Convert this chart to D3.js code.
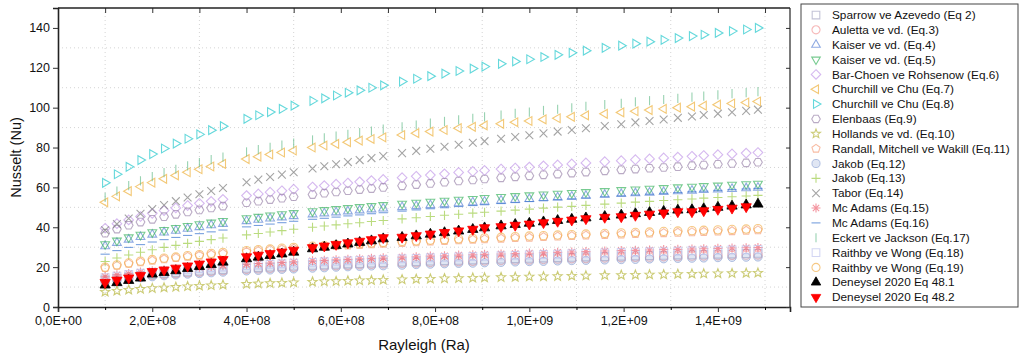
<!DOCTYPE html>
<html><head><meta charset="utf-8">
<script src="https://cdn.jsdelivr.net/npm/d3@7"></script>
<style>body{margin:0;background:#fff;} svg{display:block;font-family:"Liberation Sans",Arial,sans-serif;}</style>
</head><body><svg id="chart" width="1022" height="359"></svg>
<script>
// ---------------- DATA ----------------
const rayleigh = [1.00e8,1.25e8,1.50e8,1.75e8,2.00e8,2.25e8,2.50e8,2.75e8,3.00e8,3.25e8,3.50e8,
  4.00e8,4.25e8,4.50e8,4.75e8,5.00e8,
  5.40e8,5.65e8,5.90e8,6.15e8,6.40e8,6.65e8,6.90e8,
  7.30e8,7.60e8,7.90e8,8.20e8,8.50e8,8.80e8,9.05e8,
  9.40e8,9.70e8,1.000e9,1.030e9,1.060e9,1.090e9,1.120e9,1.160e9,
  1.195e9,1.225e9,1.255e9,1.285e9,1.315e9,
  1.345e9,1.370e9,
  1.400e9,1.430e9,1.460e9,1.485e9];

const seriesNames = ["Sparrow ve Azevedo (Eq 2)","Auletta ve vd. (Eq.3)","Kaiser ve vd. (Eq.4)","Kaiser ve vd. (Eq.5)",
  "Bar-Choen ve Rohsenow (Eq.6)","Churchill ve Chu (Eq.7)","Churchill ve Chu (Eq.8)","Elenbaas (Eq.9)",
  "Hollands ve vd. (Eq.10)","Randall, Mitchell ve Wakill (Eq.11)","Jakob (Eq.12)","Jakob (Eq.13)","Tabor (Eq.14)",
  "Mc Adams (Eq.15)","Mc Adams (Eq.16)","Eckert ve Jackson (Eq.17)","Raithby  ve Wong (Eq.18)","Raithby  ve Wong (Eq.19)",
  "Deneysel 2020 Eq 48.1","Deneysel 2020 Eq 48.2"];

const sparrow = [13.7,14.5,15.2,15.8,16.3,16.8,17.2,17.6,18.0,18.4,18.7, 19.4,19.7,20.0,20.2,20.5, 20.9,21.1,21.4,21.6,21.8,22.0,22.2, 22.5,22.7,23.0,23.2,23.4,23.6,23.8, 24.0,24.2,24.4,24.6,24.7,24.9,25.1,25.3, 25.5,25.6,25.8,25.9,26.1, 26.2,26.4, 26.5,26.6,26.8,26.9];
const auletta = [13.3,14.1,14.7,15.3,15.8,16.3,16.7,17.1,17.5,17.9,18.2, 18.8,19.1,19.4,19.6,19.9, 20.3,20.5,20.7,20.9,21.2,21.4,21.6, 21.9,22.1,22.3,22.5,22.7,22.9,23.1, 23.3,23.5,23.6,23.8,24.0,24.2,24.3,24.6, 24.7,24.9,25.0,25.2,25.3, 25.5,25.6, 25.7,25.9,26.0,26.1];
const kaiser4 = [30.5,32.2,33.8,35.1,36.3,37.4,38.3,39.3,40.1,41.0,41.7, 43.1,43.8,44.4,45.0,45.6, 46.5,47.0,47.5,48.0,48.5,49.0,49.4, 50.1,50.6,51.1,51.6,52.1,52.5,52.9, 53.4,53.8,54.2,54.7,55.0,55.4,55.8,56.3, 56.7,57.1,57.4,57.7,58.1, 58.4,58.7, 59.0,59.3,59.6,59.9];
const kaiser5 = [31.5,33.3,34.9,36.2,37.5,38.6,39.6,40.6,41.5,42.3,43.1, 44.5,45.2,45.9,46.5,47.1, 48.0,48.6,49.1,49.6,50.1,50.6,51.1, 51.8,52.3,52.8,53.3,53.8,54.2,54.7, 55.2,55.6,56.0,56.4,56.8,57.2,57.6,58.1, 58.6,58.9,59.3,59.6,60.0, 60.3,60.6, 60.9,61.3,61.6,61.8];
const barChoen = [39.5,41.8,43.7,45.4,47.0,48.4,49.7,50.9,52.0,53.0,54.0, 55.9,56.7,57.6,58.3,59.1, 60.2,60.9,61.6,62.2,62.8,63.4,64.0, 64.9,65.6,66.2,66.8,67.5,68.0,68.5, 69.2,69.7,70.2,70.8,71.3,71.8,72.3,72.9, 73.4,73.9,74.3,74.8,75.2, 75.6,76.0, 76.4,76.8,77.2,77.5];
const churchill7 = [52.5,55.5,58.1,60.4,62.4,64.3,66.0,67.6,69.1,70.5,71.8, 74.2,75.4,76.5,77.5,78.5, 80.0,81.0,81.8,82.7,83.5,84.3,85.1, 86.3,87.2,88.0,88.8,89.7,90.4,91.1, 91.9,92.7,93.3,94.1,94.7,95.4,96.1,96.9, 97.6,98.2,98.8,99.4,100.0, 100.5,101.0, 101.5,102.1,102.6,103.1];
const churchill8 = [62.3,66.6,70.3,73.7,76.7,79.5,82.0,84.4,86.6,88.7,90.7, 94.4,96.2,97.8,99.4,101.0, 103.4,104.7,106.1,107.5,108.7,110.0,111.2, 113.1,114.5,115.8,117.1,118.4,119.6,120.6, 122.0,123.2,124.3,125.4,126.5,127.5,128.6,130.0, 131.1,132.1,133.1,134.0,134.9, 135.9,136.6, 137.5,138.4,139.2,140.0];
const elenbaas = [37.0,39.1,41.0,42.6,44.0,45.3,46.5,47.7,48.7,49.7,50.6, 52.3,53.1,53.9,54.6,55.3, 56.4,57.1,57.7,58.3,58.9,59.4,60.0, 60.8,61.4,62.0,62.6,63.2,63.7,64.2, 64.8,65.3,65.8,66.3,66.7,67.2,67.7,68.3, 68.8,69.2,69.6,70.0,70.4, 70.9,71.2, 71.6,72.0,72.3,72.6];
const hollands = [7.6,8.1,8.6,9.0,9.4,9.7,10.0,10.3,10.6,10.8,11.1, 11.5,11.7,11.9,12.1,12.3, 12.6,12.8,12.9,13.1,13.3,13.4,13.6, 13.8,14.0,14.1,14.3,14.4,14.6,14.7, 14.9,15.0,15.2,15.3,15.4,15.6,15.7,15.9, 16.0,16.1,16.2,16.3,16.5, 16.6,16.7, 16.8,16.9,17.0,17.1];
const randall = [19.6,20.7,21.7,22.5,23.3,24.0,24.6,25.2,25.8,26.3,26.8, 27.7,28.1,28.6,28.9,29.3, 29.9,30.2,30.6,30.9,31.2,31.5,31.8, 32.2,32.5,32.9,33.2,33.5,33.8,34.0, 34.3,34.6,34.8,35.1,35.4,35.6,35.9,36.2, 36.4,36.7,36.9,37.1,37.3, 37.5,37.7, 37.9,38.1,38.3,38.5];
const jakob12 = [12.8,13.5,14.2,14.7,15.2,15.7,16.1,16.5,16.8,17.2,17.5, 18.1,18.4,18.6,18.9,19.1, 19.5,19.7,20.0,20.2,20.4,20.6,20.7, 21.0,21.3,21.5,21.7,21.9,22.0,22.2, 22.4,22.6,22.8,22.9,23.1,23.3,23.4,23.6, 23.8,23.9,24.1,24.2,24.4, 24.5,24.6, 24.8,24.9,25.0,25.1];
const jakob13 = [22.8,24.6,26.1,27.5,28.7,29.9,30.9,31.9,32.9,33.8,34.6, 36.2,36.9,37.6,38.3,39.0, 40.0,40.6,41.2,41.8,42.3,42.9,43.4, 44.2,44.8,45.4,46.0,46.5,47.1,47.5, 48.1,48.6,49.1,49.6,50.1,50.5,51.0,51.6, 52.1,52.6,53.0,53.4,53.8, 54.2,54.6, 54.9,55.3,55.7,56.0];
const tabor = [38.5,41.6,44.4,46.8,49.1,51.1,53.1,54.9,56.6,58.2,59.7, 62.6,63.9,65.2,66.4,67.6, 69.5,70.6,71.6,72.7,73.7,74.7,75.7, 77.2,78.3,79.4,80.4,81.4,82.4,83.2, 84.4,85.3,86.2,87.1,88.0,88.8,89.7,90.8, 91.7,92.6,93.3,94.1,94.9, 95.6,96.3, 97.0,97.7,98.4,99.0];
const mcAdams15 = [15.2,16.1,16.8,17.5,18.1,18.6,19.1,19.6,20.0,20.4,20.8, 21.5,21.8,22.1,22.4,22.7, 23.2,23.4,23.7,23.9,24.2,24.4,24.6, 25.0,25.2,25.5,25.7,26.0,26.2,26.4, 26.6,26.8,27.0,27.2,27.4,27.6,27.8,28.1, 28.3,28.4,28.6,28.8,28.9, 29.1,29.2, 29.4,29.6,29.7,29.8];
const mcAdams16 = [26.5,28.3,29.9,31.3,32.6,33.8,34.9,35.9,36.8,37.7,38.6, 40.2,40.9,41.6,42.3,43.0, 44.0,44.5,45.1,45.7,46.2,46.8,47.3, 48.1,48.7,49.3,49.8,50.4,50.9,51.3, 51.9,52.4,52.9,53.3,53.8,54.2,54.7,55.3, 55.8,56.2,56.6,57.0,57.4, 57.8,58.1, 58.5,58.9,59.2,59.5];
const eckert = [55.0,58.1,60.9,63.3,65.4,67.4,69.1,70.8,72.4,73.9,75.2, 77.8,79.0,80.1,81.2,82.2, 83.8,84.8,85.7,86.6,87.5,88.3,89.2, 90.4,91.3,92.2,93.1,93.9,94.7,95.4, 96.3,97.1,97.8,98.6,99.2,99.9,100.7,101.5, 102.2,102.9,103.5,104.1,104.7, 105.3,105.8, 106.4,107.0,107.5,108.0];
const raithby18 = [14.7,15.5,16.3,16.9,17.5,18.0,18.5,18.9,19.3,19.7,20.1, 20.8,21.1,21.4,21.7,22.0, 22.4,22.7,22.9,23.2,23.4,23.6,23.8, 24.2,24.4,24.7,24.9,25.1,25.3,25.5, 25.7,25.9,26.1,26.3,26.5,26.7,26.9,27.1, 27.3,27.5,27.7,27.8,28.0, 28.2,28.3, 28.4,28.6,28.7,28.9];
const raithby19 = [20.0,21.1,22.1,23.0,23.8,24.5,25.1,25.8,26.3,26.9,27.4, 28.3,28.7,29.1,29.5,29.9, 30.5,30.8,31.2,31.5,31.8,32.1,32.4, 32.9,33.2,33.5,33.8,34.2,34.4,34.7, 35.0,35.3,35.6,35.8,36.1,36.3,36.6,36.9, 37.2,37.4,37.6,37.9,38.1, 38.3,38.5, 38.7,38.9,39.1,39.3];
const deneysel481 = [11.0,12.2,13.3,14.5,16.5,17.3,18.2,19.3,20.3,21.3,22.5, 24.2,25.0,25.8,26.6,27.5, 29.2,30.0,30.8,31.6,32.4,33.2,34.2, 34.9,35.7,36.5,37.3,38.1,38.9,39.7, 40.7,41.4,42.0,42.7,43.4,44.0,44.7,45.4, 46.1,46.8,47.4,48.0,48.6, 48.8,49.3, 50.0,50.6,51.2,51.6];
const deneysel482 = [12.3,13.5,14.6,15.8,17.8,18.6,19.5,20.6,21.6,22.6,23.8, 25.2,26.0,26.8,27.6,28.5, 29.8,30.6,31.4,32.2,33.0,33.8,34.8, 35.0,35.8,36.6,37.4,38.2,39.0,39.8, 40.3,41.0,41.6,42.3,43.0,43.6,44.3,45.0, 45.3,46.0,46.6,47.2,47.8, 47.8,48.3, 49.0,49.6,50.3,null];

const xTickValues = [0,2e8,4e8,6e8,8e8,1e9,1.2e9,1.4e9];
const xTickLabels = ["0,0E+00","2,0E+08","4,0E+08","6,0E+08","8,0E+08","1,0E+09","1,2E+09","1,4E+09"];
const yTickValues = [0,20,40,60,80,100,120,140];
const xTitle = "Rayleigh (Ra)";
const yTitle = "Nusselt (Nu)";

// ---------------- STYLES ----------------
const seriesValues = [sparrow,auletta,kaiser4,kaiser5,barChoen,churchill7,churchill8,elenbaas,hollands,randall,
  jakob12,jakob13,tabor,mcAdams15,mcAdams16,eckert,raithby18,raithby19,deneysel481,deneysel482];
const styles = [
  {shape:"square",  color:"#a9a9c4"},
  {shape:"circle",  color:"#f29a9a"},
  {shape:"triUp",   color:"#5f86d6"},
  {shape:"triDown", color:"#3fb563"},
  {shape:"diamond", color:"#c39ae8"},
  {shape:"triLeft", color:"#eeb13c"},
  {shape:"triRight",color:"#22c8cc"},
  {shape:"hexagon", color:"#9c88ac"},
  {shape:"star",    color:"#b5b53a"},
  {shape:"pentagon",color:"#f5a07c"},
  {shape:"sphere",  color:"#98acd8"},
  {shape:"plus",    color:"#9ccc48"},
  {shape:"x",       color:"#7e7e7e"},
  {shape:"asterisk",color:"#f06676"},
  {shape:"hbar",    color:"#3f78d0"},
  {shape:"vbar",    color:"#6cbf90"},
  {shape:"square",  color:"#c0c4ee"},
  {shape:"circle",  color:"#f2b050"},
  {shape:"fTriUp",  color:"#000000"},
  {shape:"fTriDown",color:"#ff0000"}
];
const isFilled = st => st.shape==="fTriUp"||st.shape==="fTriDown";

function shapePath(t, r){
  const p = d3.path();
  const poly = (n, rot, rr) => { for(let i=0;i<n;i++){ const a = rot + i*2*Math.PI/n; const x=rr*Math.cos(a), y=rr*Math.sin(a); if(i===0) p.moveTo(x,y); else p.lineTo(x,y);} p.closePath(); };
  switch(t){
    case "square": p.rect(-r*0.85,-r*0.85,r*1.7,r*1.7); break;
    case "circle": case "sphere": p.arc(0,0,r*0.9,0,2*Math.PI); break;
    case "triUp": case "fTriUp": poly(3,-Math.PI/2,r*1.1); break;
    case "triDown": case "fTriDown": poly(3,Math.PI/2,r*1.1); break;
    case "triLeft": poly(3,Math.PI,r*1.1); break;
    case "triRight": poly(3,0,r*1.1); break;
    case "diamond": poly(4,-Math.PI/2,r*1.05); break;
    case "hexagon": poly(6,0,r*0.95); break;
    case "pentagon": poly(5,-Math.PI/2,r*0.95); break;
    case "star": { for(let i=0;i<10;i++){ const a=-Math.PI/2+i*Math.PI/5; const rr=i%2?r*0.45:r*1.05; const x=rr*Math.cos(a), y=rr*Math.sin(a); if(i===0)p.moveTo(x,y); else p.lineTo(x,y);} p.closePath(); break; }
    case "plus": p.moveTo(-r,0); p.lineTo(r,0); p.moveTo(0,-r); p.lineTo(0,r); break;
    case "x": p.moveTo(-r*0.85,-r*0.85); p.lineTo(r*0.85,r*0.85); p.moveTo(r*0.85,-r*0.85); p.lineTo(-r*0.85,r*0.85); break;
    case "asterisk": p.moveTo(-r,0); p.lineTo(r,0); p.moveTo(0,-r); p.lineTo(0,r); p.moveTo(-r*0.7,-r*0.7); p.lineTo(r*0.7,r*0.7); p.moveTo(r*0.7,-r*0.7); p.lineTo(-r*0.7,r*0.7); break;
    case "hbar": p.moveTo(-r,0); p.lineTo(r,0); break;
    case "vbar": p.moveTo(0,-r); p.lineTo(0,r); break;
  }
  return p.toString();
}
function styleMark(sel, st){
  if(isFilled(st)){
    sel.attr("fill",st.color).attr("stroke",st.color).attr("stroke-width",0.8);
  } else if(st.shape==="sphere"){
    sel.attr("fill",st.color).attr("fill-opacity",0.3).attr("stroke",st.color).attr("stroke-opacity",0.75).attr("stroke-width",1);
  } else {
    sel.attr("fill","none").attr("stroke",st.color).attr("stroke-opacity",0.7).attr("stroke-width",1.1);
  }
}

// ---------------- CHART ----------------
const svg = d3.select("#chart");
const L=58, R=790, T=8, B=307;
const x = d3.scaleLinear().domain([0,1.553e9]).range([L,R]);
const y = d3.scaleLinear().domain([0,150]).range([B,T]);

// grid (dotted, at minor positions)
const gx = d3.range(1e8,1.6e9,2e8), gy = d3.range(10,150,20);
svg.append("g").selectAll("line").data(gx).join("line")
  .attr("x1",d=>x(d)).attr("x2",d=>x(d)).attr("y1",T).attr("y2",B)
  .attr("stroke","#d4d4d4").attr("stroke-width",1).attr("stroke-dasharray","1,3");
svg.append("g").selectAll("line").data(gy).join("line")
  .attr("y1",d=>y(d)).attr("y2",d=>y(d)).attr("x1",L).attr("x2",R)
  .attr("stroke","#d4d4d4").attr("stroke-width",1).attr("stroke-dasharray","1,3");

// series
seriesValues.forEach((vals,i)=>{
  const st = styles[i];
  const r = isFilled(st) ? 5.4 : 4.6;
  const d = shapePath(st.shape, r);
  const pts = rayleigh.map((ra,j)=>({ra, v:vals[j]})).filter(p=>p.v!=null);
  const g = svg.append("g");
  g.selectAll("path").data(pts).join("path")
    .attr("d",d).attr("transform",p=>`translate(${x(p.ra)},${y(p.v)})`)
    .call(s=>styleMark(s,st));
});

// axes
const fmtX = d => xTickLabels[xTickValues.indexOf(d)];
const axB = svg.append("g").attr("transform",`translate(0,${B})`)
  .call(d3.axisBottom(x).tickValues(xTickValues).tickFormat(fmtX).tickSize(5).tickPadding(4));
svg.append("g").attr("transform",`translate(0,${B})`)
  .call(d3.axisBottom(x).tickValues(d3.range(1e8,1.6e9,2e8)).tickFormat("").tickSize(3))
  .call(g=>g.select(".domain").remove());
const axT = svg.append("g").attr("transform",`translate(0,${T})`)
  .call(d3.axisBottom(x).tickValues(d3.range(0,1.6e9,1e8)).tickFormat("").tickSize(5));
const axL = svg.append("g").attr("transform",`translate(${L},0)`)
  .call(d3.axisLeft(y).tickValues(yTickValues).tickSize(5).tickPadding(3));
const axR = svg.append("g").attr("transform",`translate(${R},0)`)
  .call(d3.axisLeft(y).tickValues(yTickValues).tickFormat("").tickSize(4));
[axB,axT,axL,axR].forEach(a=>{
  a.select(".domain").attr("stroke","#222").attr("stroke-width",1.6);
  a.selectAll(".tick line").attr("stroke","#333");
  a.selectAll("text").attr("font-size","12.5px").attr("fill","#111")
   .attr("font-family",'"Liberation Sans",Arial,sans-serif');
});
axT.select(".domain").remove();
axR.select(".domain").remove();
svg.append("line").attr("x1",L).attr("x2",R).attr("y1",T).attr("y2",T).attr("stroke","#222").attr("stroke-width",1.6);
svg.append("line").attr("x1",R).attr("x2",R).attr("y1",T).attr("y2",B).attr("stroke","#222").attr("stroke-width",1.2);

// titles
svg.append("text").attr("x",(L+R)/2).attr("y",350).attr("text-anchor","middle")
  .attr("font-size","15px").attr("fill","#111").text(xTitle);
svg.append("text").attr("transform",`translate(21,${(T+B)/2}) rotate(-90)`).attr("text-anchor","middle")
  .attr("font-size","14.5px").attr("fill","#111").text(yTitle);

// legend
const lg = svg.append("g");
lg.append("rect").attr("x",801).attr("y",4).attr("width",217).attr("height",303)
  .attr("fill","#fff").attr("stroke","#444").attr("stroke-width",1);
seriesNames.forEach((name,i)=>{
  const yy = 15 + i*14.85;
  const st = styles[i];
  const r = isFilled(st) ? 5 : 4.5;
  lg.append("path").attr("d",shapePath(st.shape,r)).attr("transform",`translate(816,${yy})`).call(s=>styleMark(s,st));
  lg.append("text").attr("x",832).attr("y",yy).attr("dy","0.35em").attr("font-size","11.8px").attr("fill","#111").text(name);
});
</script></body></html>
